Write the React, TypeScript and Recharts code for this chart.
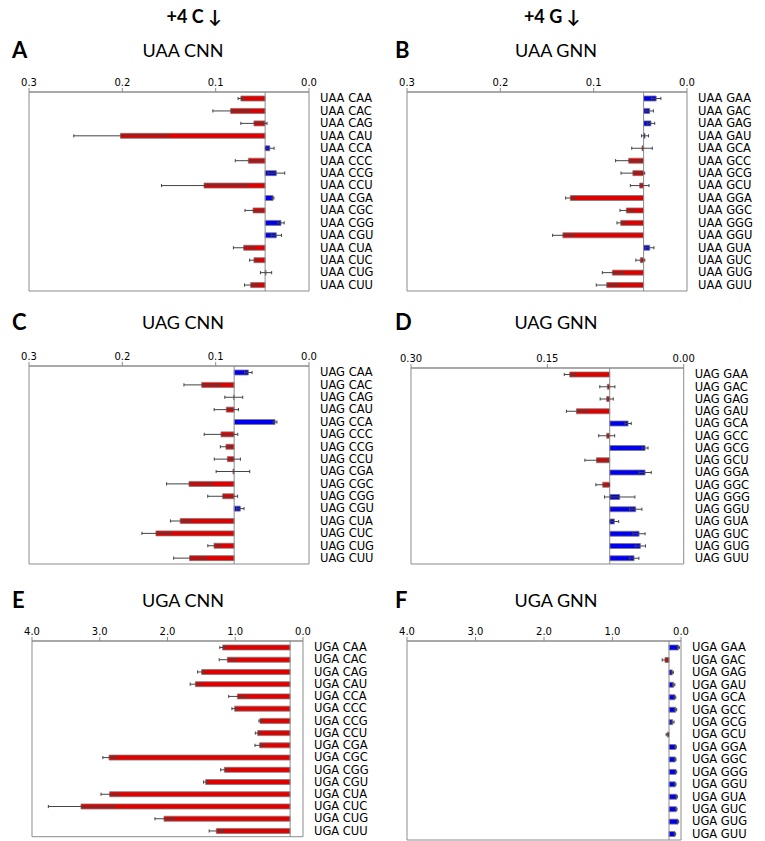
import React from 'react';
import { BarChart, Bar, XAxis, YAxis, CartesianGrid, ReferenceLine, ErrorBar, Cell } from 'recharts';

// ---------- categories ----------
const cnnCodons = ['CAA', 'CAC', 'CAG', 'CAU', 'CCA', 'CCC', 'CCG', 'CCU', 'CGA', 'CGC', 'CGG', 'CGU', 'CUA', 'CUC', 'CUG', 'CUU'];
const gnnCodons = ['GAA', 'GAC', 'GAG', 'GAU', 'GCA', 'GCC', 'GCG', 'GCU', 'GGA', 'GGC', 'GGG', 'GGU', 'GUA', 'GUC', 'GUG', 'GUU'];

// ---------- tick labels ----------
const ticksA = [0, 0.1, 0.2, 0.3];
const ticksD = [0, 0.15, 0.3];
const ticksE = [0, 1, 2, 3, 4];

// ---------- panel A: UAA CNN ----------
const baseA = 0.047;
const valuesA = [0.073, 0.084, 0.059, 0.202, 0.042, 0.065, 0.035, 0.1125, 0.0386, 0.060, 0.030, 0.035, 0.070, 0.059, 0.046, 0.0625];
const errorsA = [0.003, 0.019, 0.014, 0.05, 0.0046, 0.014, 0.009, 0.0455, 0.001, 0.0086, 0.0034, 0.0055, 0.011, 0.0046, 0.006, 0.0066];

// ---------- panel B: UAA GNN ----------
const baseB = 0.0465;
const valuesB = [0.033, 0.040, 0.0386, 0.045, 0.0482, 0.0625, 0.058, 0.0507, 0.125, 0.065, 0.071, 0.133, 0.040, 0.050, 0.080, 0.086];
const errorsB = [0.005, 0.004, 0.004, 0.0038, 0.011, 0.014, 0.0127, 0.010, 0.005, 0.0068, 0.004, 0.011, 0.0046, 0.0048, 0.0107, 0.0112];

// ---------- panel C: UAG CNN ----------
const baseC = 0.0802;
const valuesC = [0.065, 0.115, 0.0806, 0.0886, 0.0364, 0.0943, 0.089, 0.0875, 0.0815, 0.1286, 0.0925, 0.0736, 0.138, 0.164, 0.1018, 0.128];
const errorsC = [0.004, 0.019, 0.0096, 0.013, 0.002, 0.018, 0.006, 0.014, 0.018, 0.024, 0.016, 0.004, 0.0105, 0.015, 0.0066, 0.017];

// ---------- panel D: UAG GNN ----------
const baseD = 0.0814;
const valuesD = [0.1254, 0.084, 0.0847, 0.118, 0.0612, 0.0847, 0.0425, 0.096, 0.0425, 0.0891, 0.0704, 0.0528, 0.0763, 0.0491, 0.0477, 0.0546];
const errorsD = [0.006, 0.0083, 0.0072, 0.011, 0.0035, 0.0088, 0.0033, 0.0127, 0.0068, 0.0075, 0.0167, 0.0068, 0.0048, 0.0066, 0.0057, 0.0053];

// ---------- panel E: UGA CNN ----------
const baseE = 0.19;
const valuesE = [1.186, 1.117, 1.496, 1.589, 0.969, 1.009, 0.635, 0.669, 0.64, 2.863, 1.161, 1.437, 2.854, 3.277, 2.052, 1.279];
const errorsE = [0.042, 0.12, 0.06, 0.076, 0.128, 0.04, 0.015, 0.035, 0.069, 0.091, 0.054, 0.032, 0.128, 0.482, 0.133, 0.106];

// ---------- panel F: UGA GNN ----------
const baseF = 0.175;
const valuesF = [0.039, 0.234, 0.127, 0.107, 0.088, 0.078, 0.122, 0.20, 0.078, 0.083, 0.073, 0.083, 0.063, 0.068, 0.044, 0.088];
const errorsF = [0.015, 0.04, 0.015, 0.017, 0.012, 0.015, 0.02, 0.017, 0.01, 0.01, 0.01, 0.01, 0.01, 0.01, 0.01, 0.01];

const RED = '#e00000';
const BLUE = '#0000ee';
const GREY = '#8c8c8c';

type Spec = {
  labels: string[];
  values: number[];
  errors: number[];
  base: number;
  max: number;
  ticks: number[];
  digits: number;
  left: number;
  top: number;
  plotW: number;
  plotH: number;
};

const ML = 16;
const AXIS_H = 24;
const Y_W = 74;
const MB = 2;

function RowTick(props: any) {
  const { x, y, payload } = props;
  return (
    <text x={x} y={y} dy="0.36em" textAnchor="start" fill="#000" fontSize={11.5} fontFamily="DejaVu Sans">
      {payload.value}
    </text>
  );
}

function Panel({ spec }: { spec: Spec }) {
  const data = spec.labels.map((name, i) => ({
    name,
    range: [spec.base, spec.values[i]],
    err: spec.errors[i],
    up: spec.values[i] >= spec.base,
  }));
  return (
    <div style={{ position: 'absolute', left: spec.left - ML, top: spec.top - AXIS_H }}>
      <BarChart
        width={ML + spec.plotW + Y_W}
        height={AXIS_H + spec.plotH + MB}
        data={data}
        layout="vertical"
        margin={{ top: 0, left: ML, right: 0, bottom: MB }}
      >
        <CartesianGrid
          stroke={GREY}
          horizontalCoordinatesGenerator={({ offset }: any) => [offset.top, offset.top + offset.height]}
          verticalCoordinatesGenerator={({ offset }: any) => [offset.left, offset.left + offset.width]}
        />
        <XAxis
          type="number"
          orientation="top"
          domain={[0, spec.max]}
          reversed
          allowDataOverflow
          ticks={spec.ticks}
          interval={0}
          tickFormatter={(v: number) => v.toFixed(spec.digits)}
          height={AXIS_H}
          tickSize={4}
          tickMargin={2}
          stroke={GREY}
          tick={{ fill: '#000', fontSize: 10, fontFamily: 'DejaVu Sans' }}
        />
        <YAxis
          type="category"
          dataKey="name"
          orientation="right"
          width={Y_W}
          tickLine={false}
          axisLine={false}
          tickSize={0}
          tickMargin={11}
          interval={0}
          tick={<RowTick />}
        />
        <ReferenceLine x={spec.base} stroke={GREY} />
        <Bar dataKey="range" barSize={5} stroke="#7a7a7a" strokeWidth={0.8} isAnimationActive={false}>
          {data.map((d, i) => (
            <Cell key={i} fill={d.up ? RED : BLUE} />
          ))}
          <ErrorBar dataKey="err" direction="x" width={1.6} stroke="#444" strokeWidth={1} isAnimationActive={false} />
        </Bar>
      </BarChart>
    </div>
  );
}

function Text({ x, y, size, bold, center, children }: any) {
  return (
    <div
      style={{
        position: 'absolute',
        left: x,
        top: y - 15,
        height: 30,
        lineHeight: '30px',
        fontSize: size,
        fontWeight: bold ? 700 : 400,
        fontFamily: 'Lato, "Open Sans", sans-serif',
        transform: center ? 'translateX(-50%)' : undefined,
        whiteSpace: 'nowrap',
        color: '#000',
      }}
    >
      {children}
    </div>
  );
}

const panels: { letter: string; title: string; spec: Spec; lx: number; tx: number; ty: number }[] = [
  {
    letter: 'A', title: 'UAA CNN', lx: 12, tx: 183, ty: 50,
    spec: { labels: cnnCodons.map((c) => `UAA ${c}`), values: valuesA, errors: errorsA, base: baseA, max: 0.3, ticks: ticksA, digits: 1, left: 29.3, top: 92, plotW: 280, plotH: 199 },
  },
  {
    letter: 'B', title: 'UAA GNN', lx: 395, tx: 556, ty: 50,
    spec: { labels: gnnCodons.map((c) => `UAA ${c}`), values: valuesB, errors: errorsB, base: baseB, max: 0.3, ticks: ticksA, digits: 1, left: 406.7, top: 92, plotW: 280, plotH: 199 },
  },
  {
    letter: 'C', title: 'UAG CNN', lx: 12, tx: 183, ty: 322,
    spec: { labels: cnnCodons.map((c) => `UAG ${c}`), values: valuesC, errors: errorsC, base: baseC, max: 0.3, ticks: ticksA, digits: 1, left: 29.3, top: 366, plotW: 280, plotH: 198 },
  },
  {
    letter: 'D', title: 'UAG GNN', lx: 395, tx: 556, ty: 322,
    spec: { labels: gnnCodons.map((c) => `UAG ${c}`), values: valuesD, errors: errorsD, base: baseD, max: 0.3, ticks: ticksD, digits: 2, left: 410.7, top: 368, plotW: 272.7, plotH: 196 },
  },
  {
    letter: 'E', title: 'UGA CNN', lx: 12, tx: 183, ty: 600,
    spec: { labels: cnnCodons.map((c) => `UGA ${c}`), values: valuesE, errors: errorsE, base: baseE, max: 4, ticks: ticksE, digits: 1, left: 31.7, top: 641, plotW: 271, plotH: 195.7 },
  },
  {
    letter: 'F', title: 'UGA GNN', lx: 395, tx: 556, ty: 600,
    spec: { labels: gnnCodons.map((c) => `UGA ${c}`), values: valuesF, errors: errorsF, base: baseF, max: 4, ticks: ticksE, digits: 1, left: 407.3, top: 641, plotW: 274, plotH: 199 },
  },
];

export default function App() {
  return (
    <div style={{ position: 'absolute', left: 0, top: 0, width: 765, height: 841, background: '#fff', overflow: 'hidden' }}>
      <Text x={194} y={16} size={18} bold center>+4 C ↓</Text>
      <Text x={552} y={16} size={18} bold center>+4 G ↓</Text>
      {panels.map((p) => (
        <React.Fragment key={p.letter}>
          <Text x={p.lx} y={p.ty} size={22} bold>{p.letter}</Text>
          <Text x={p.tx} y={p.ty} size={18} center>{p.title}</Text>
          <Panel spec={p.spec} />
        </React.Fragment>
      ))}
    </div>
  );
}
